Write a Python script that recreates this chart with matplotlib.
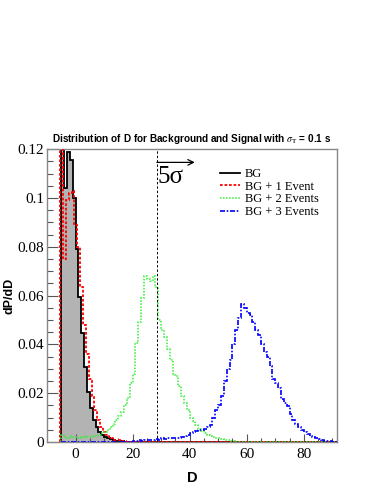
import numpy as np
import matplotlib
matplotlib.use("Agg")
import matplotlib.pyplot as plt

plt.rcParams['mathtext.fontset'] = 'stix'

# histogram contents, 1 unit bins
bg_start = -5.0
bg = [0.30, 0.104, 0.119, 0.1155, 0.0998, 0.0793, 0.0595, 0.0445, 0.0308, 0.0206,
      0.0138, 0.009, 0.006, 0.0042, 0.0029, 0.0022, 0.0015, 0.0011, 0.0008, 0.0006,
      0.0004, 0.0003, 0.0002, 0.0001, 0.0001] + [0.0] * 72

red_start = -5.4
red = [0.30, 0.075, 0.099, 0.102, 0.103, 0.089, 0.080, 0.0636, 0.048, 0.036,
       0.026, 0.019, 0.013, 0.009, 0.006, 0.0042, 0.003, 0.002, 0.0015, 0.001,
       0.0007, 0.0005, 0.0003, 0.0002, 0.0001] + [0.0] * 72

green_start = -5.0
green = [0.003, 0.002, 0.0015, 0.0025, 0.002, 0.002, 0.0018, 0.002, 0.0025, 0.002, 0.0022, 0.0025, 0.0028,
         0.003, 0.0035, 0.004, 0.005, 0.006, 0.0075, 0.009, 0.0105, 0.0125, 0.015, 0.018, 0.024, 0.028,
         0.0405, 0.049, 0.059, 0.068, 0.067, 0.066, 0.068, 0.0636, 0.05, 0.046, 0.043, 0.038, 0.0336,
         0.028, 0.027, 0.023, 0.019, 0.016, 0.013, 0.010, 0.0085, 0.007, 0.0055, 0.0045, 0.0035, 0.003,
         0.0025, 0.002, 0.0018, 0.0015, 0.0012, 0.001, 0.0008, 0.0005, 0.0003, 0.0002] + [0.0] * 35

blue_start = -5.0
blue = [0.0] * 25 + \
       [0.0005, 0.0005, 0.0008, 0.0005, 0.001, 0.0008, 0.001, 0.001, 0.0012, 0.001, 0.0015, 0.0012, 0.0015,
        0.0015, 0.0015, 0.0018, 0.0015, 0.002, 0.0025, 0.003, 0.0035, 0.004, 0.0045, 0.005, 0.005, 0.0055,
        0.006, 0.007, 0.0098, 0.013, 0.015, 0.019, 0.025, 0.030, 0.0336, 0.040, 0.046, 0.051, 0.0565,
        0.055, 0.053, 0.052, 0.049, 0.046, 0.044, 0.040, 0.037, 0.035, 0.031, 0.026, 0.024, 0.022,
        0.0175, 0.016, 0.0147, 0.0115, 0.009, 0.0075, 0.006, 0.005, 0.004, 0.0033, 0.0025, 0.002, 0.0015,
        0.0012, 0.0008, 0.0005, 0.0004, 0.0003, 0.0002, 0.0]

labels = ['BG', 'BG + 1 Event', 'BG + 2 Events', 'BG + 3 Events']
yticks = [0, 0.02, 0.04, 0.06, 0.08, 0.1, 0.12]
ytick_labels = ['0', '0.02', '0.04', '0.06', '0.08', '0.1', '0.12']
xticks = [0, 20, 40, 60, 80]
five_sigma = 28.5


def edges(start, vals):
    return start + np.arange(len(vals) + 1)


fig = plt.figure(figsize=(3.76, 4.86), dpi=100)
ax = fig.add_axes([0.125, 0.0905, 0.771, 0.6025])

ax.stairs(bg, edges(bg_start, bg), fill=True, color='#b3b3b3', zorder=1)
ax.stairs(bg, edges(bg_start, bg), color='black', lw=1.3, label=labels[0], zorder=2)
ax.stairs(red, edges(red_start, red), color='#ff0000', lw=1.3,
          linestyle=(0, (1.5, 1)), label=labels[1], zorder=3)
ax.stairs(green, edges(green_start, green), color='#33ee33', lw=1.1,
          linestyle=(0, (1, 1)), label=labels[2], zorder=4)
ax.stairs(blue, edges(blue_start, blue), color='#0000ff', lw=1.2,
          linestyle=(0, (3, 1, 1, 1)), label=labels[3], zorder=5)

# 5 sigma line and arrow
ax.axvline(five_sigma, color='black', lw=0.7, linestyle=(0, (2.5, 2)), zorder=6)
ax.annotate('', xy=(41.8, 0.1146), xytext=(five_sigma, 0.1146),
            arrowprops=dict(arrowstyle='->', lw=0.9, color='black', shrinkA=0, shrinkB=0))
ax.text(five_sigma + 0.3, 0.1063, '5σ', fontsize=18, family='Liberation Serif')

ax.set_xlim(-10, 91.6)
ax.set_ylim(0, 0.12)
ax.set_xticks(xticks)
ax.set_xticks(np.arange(-5, 91, 5), minor=True)
ax.set_yticks(yticks)
ax.set_yticklabels(ytick_labels)
ax.set_yticks(np.arange(0, 0.1201, 0.005), minor=True)
for lab in ax.get_xticklabels() + ax.get_yticklabels():
    lab.set_family('Liberation Serif')
    lab.set_fontsize(11)

ax.tick_params(axis='both', which='both', direction='in', color='#555555', width=0.8)
ax.tick_params(axis='y', which='major', length=8, pad=2)
ax.tick_params(axis='y', which='minor', length=4)
ax.tick_params(axis='x', which='major', length=6, pad=4)
ax.tick_params(axis='x', which='minor', length=3)

for spine in ax.spines.values():
    spine.set_edgecolor('#888888')
    spine.set_linewidth(1.0)

ax.set_xlabel('D', fontsize=10.5, weight='bold', family='Liberation Sans')
ax.xaxis.set_label_coords(0.5, -0.1)
ax.set_ylabel('dP/dD', fontsize=9, weight='bold', family='Liberation Sans')
ax.yaxis.set_label_coords(-0.108, 0.5)
ax.set_title(r'Distribution of D for Background and Signal with $\sigma_{\mathrm{T}}$ = 0.1 s',
             fontsize=7.2, weight='bold', family='Liberation Sans', pad=5)

ax.legend(loc='upper left', bbox_to_anchor=(0.597, 0.935), frameon=False,
          prop={'family': 'Liberation Serif', 'size': 9}, handlelength=1.6,
          handletextpad=0.4, labelspacing=0.05, borderpad=0, borderaxespad=0)

fig.savefig('out.png', dpi=100)
